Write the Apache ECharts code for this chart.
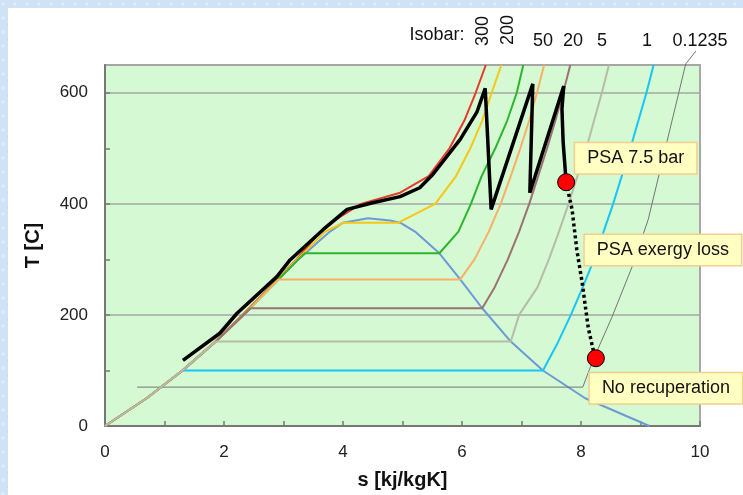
<!DOCTYPE html>
<html>
<head>
<meta charset="utf-8">
<script src="https://cdn.jsdelivr.net/npm/echarts@6/dist/echarts.min.js"></script>
<style>
  html, body { margin: 0; padding: 0; }
  body {
    width: 743px; height: 495px; position: relative; overflow: hidden;
    background: #d0e2f6;
    background-image:
      radial-gradient(circle at 3px 4px, #e4eefa 1px, transparent 2px),
      radial-gradient(circle at 9px 11px, #bfd5f0 1px, transparent 2px);
    background-size: 12px 14px;
  }
  #panel { position: absolute; left: 8px; top: 8px; right: 0; bottom: 0; background: #ffffff; }
  #chart { position: absolute; left: 0; top: 0; width: 743px; height: 495px; }
</style>
</head>
<body>
<div id="panel"></div>
<div id="chart"></div>
<script>
// T-s diagram of water, [s (kJ/kgK), T (C)]
const satDome = [[0, 0], [0.70, 50], [1.31, 100], [1.84, 150], [2.33, 200], [2.79, 250], [3.25, 300],
  [3.78, 350], [4.0, 366], [4.42, 374], [4.79, 370], [4.96, 366], [5.21, 350], [5.62, 311],
  [5.97, 264], [6.34, 212], [6.82, 152], [7.36, 100], [8.07, 50], [9.15, 0]];

const iso300 = [[0, 0], [0.70, 50], [1.30, 100], [1.83, 150], [2.31, 200], [2.77, 250], [3.22, 300],
  [3.62, 350], [3.93, 375], [4.30, 400], [4.96, 420], [5.44, 450], [5.79, 500], [6.04, 550],
  [6.23, 600], [6.40, 650]];
const iso200 = [[0, 0], [0.70, 50], [1.30, 100], [1.83, 150], [2.32, 200], [2.78, 250], [3.23, 300],
  [3.70, 350], [4.01, 366], [4.93, 366], [5.55, 400], [5.90, 450], [6.14, 500], [6.34, 550],
  [6.50, 600], [6.66, 650]];
const iso100 = [[0, 0], [0.70, 50], [1.30, 100], [1.84, 150], [2.32, 200], [2.79, 250], [3.25, 300],
  [3.36, 311], [5.62, 311], [5.94, 350], [6.15, 400], [6.33, 450], [6.56, 500], [6.76, 550],
  [6.92, 600], [7.03, 650]];
const iso50 = [[0, 0], [0.70, 50], [1.30, 100], [1.84, 150], [2.33, 200], [2.79, 250], [2.92, 264],
  [5.97, 264], [6.21, 300], [6.45, 350], [6.65, 400], [6.82, 450], [6.98, 500], [7.13, 550],
  [7.26, 600], [7.38, 650]];
const iso20 = [[0, 0], [0.70, 50], [1.30, 100], [1.84, 150], [2.33, 200], [2.45, 212], [6.34, 212],
  [6.55, 250], [6.77, 300], [6.96, 350], [7.13, 400], [7.28, 450], [7.43, 500], [7.57, 550],
  [7.70, 600], [7.82, 650]];
const iso5 = [[0, 0], [0.70, 50], [1.30, 100], [1.86, 152], [6.82, 152], [6.96, 200], [7.27, 250],
  [7.46, 300], [7.63, 350], [7.79, 400], [8.09, 500], [8.35, 600], [8.47, 650]];
const iso1 = [[1.30, 100], [7.36, 100], [7.61, 150], [7.83, 200], [8.03, 250], [8.22, 300],
  [8.54, 400], [8.83, 500], [9.10, 600], [9.22, 650]];
const iso01235 = [[0.54, 70], [8.03, 70], [8.20, 118], [8.52, 196], [8.86, 287], [9.13, 372],
  [9.76, 652], [9.93, 675]];

const processPath = [[1.31, 118], [1.93, 167], [2.22, 203], [2.89, 269], [3.11, 299], [3.66, 353],
  [4.07, 390], [4.50, 402], [4.96, 413], [5.29, 429], [5.51, 453], [5.97, 516], [6.25, 565],
  [6.39, 608], [6.49, 390], [7.19, 616], [7.14, 420], [7.71, 612], [7.68, 571], [7.70, 511],
  [7.75, 439]];
const lossPath = [[7.75, 439], [7.85, 390], [7.93, 317], [8.02, 258], [8.12, 178], [8.20, 139], [8.25, 122]];

const noteTexts = ['PSA 7.5 bar', 'PSA exergy loss', 'No recuperation'];
const isobarLabels = ['300', '200', '50', '20', '5', '1', '0.1235'];

const FONT = "'Liberation Sans', Arial, sans-serif";

const chart = echarts.init(document.getElementById('chart'), null, { renderer: 'canvas' });

const boxStyle = {
  show: true,
  color: '#111',
  fontFamily: FONT,
  fontSize: 18,
  backgroundColor: '#ffffc2',
  borderColor: '#f3cf8c',
  borderWidth: 1.5,
  padding: [6, 12],
  opacity: 1
};

function isoLine(name, data, color, width) {
  return {
    name: name,
    type: 'line',
    data: data,
    showSymbol: false,
    symbol: 'none',
    lineStyle: { color: color, width: width || 2 },
    silent: true,
    z: 3
  };
}

// the text above the plot
const topTexts = [
  { text: 'Isobar:', x: 437, y: 35, rot: 0 },
  { text: isobarLabels[0], x: 483, y: 31, rot: Math.PI / 2 },
  { text: isobarLabels[1], x: 508, y: 30, rot: Math.PI / 2 },
  { text: isobarLabels[2], x: 543, y: 41, rot: 0 },
  { text: isobarLabels[3], x: 573, y: 41, rot: 0 },
  { text: isobarLabels[4], x: 602, y: 41, rot: 0 },
  { text: isobarLabels[5], x: 647, y: 41, rot: 0 },
  { text: isobarLabels[6], x: 700, y: 41, rot: 0 }
];

const option = {
  animation: false,
  textStyle: { fontFamily: FONT },
  grid: {
    left: 105, right: 43, top: 65, bottom: 69,
    show: true,
    backgroundColor: '#d5f9d3',
    borderColor: '#a8a8a8',
    borderWidth: 2
  },
  xAxis: {
    type: 'value',
    min: 0, max: 10, interval: 1,
    name: 's [kj/kgK]',
    nameLocation: 'middle',
    nameGap: 44,
    nameTextStyle: { fontFamily: FONT, fontSize: 20, fontWeight: 'bold', color: '#111' },
    axisLine: { lineStyle: { color: '#777', width: 2 } },
    axisTick: { inside: true, length: 5, lineStyle: { color: '#777', width: 1.5 } },
    axisLabel: {
      margin: 18, fontSize: 17, color: '#222', fontFamily: FONT,
      formatter: v => (v % 2 === 0 ? String(v) : '')
    },
    splitLine: { show: false }
  },
  yAxis: [{
    type: 'value',
    min: 0, max: 650, interval: 100,
    name: 'T [C]',
    nameLocation: 'middle',
    nameGap: 62,
    nameTextStyle: { fontFamily: FONT, fontSize: 20, fontWeight: 'bold', color: '#111' },
    axisLine: { show: true, lineStyle: { color: '#777', width: 2 } },
    axisTick: { show: true, inside: true, length: 5, lineStyle: { color: '#777', width: 1.5 } },
    axisLabel: {
      margin: 17, fontSize: 17, color: '#222', fontFamily: FONT, showMaxLabel: false,
      formatter: v => (v % 200 === 0 ? String(v) : '')
    },
    splitLine: { show: false }
  }, {
    type: 'value',
    min: 0, max: 650, interval: 200,
    axisLine: { show: false }, axisTick: { show: false }, axisLabel: { show: false },
    splitLine: { show: true, lineStyle: { color: '#a6a6a6', width: 1.5 } }
  }],
  graphic: topTexts.map(t => ({
    type: 'text',
    x: t.x, y: t.y,
    rotation: t.rot,
    style: {
      text: t.text,
      fill: '#111',
      font: '18px ' + FONT,
      textAlign: 'center',
      textVerticalAlign: 'middle'
    }
  })),
  series: [
    isoLine('saturation', satDome, '#6b9bd6', 2),
    isoLine('1 bar', iso1, '#16c6f4', 2),
    Object.assign(isoLine('0.1235 bar', iso01235, '#747474', 1), { clip: false }),
    isoLine('300 bar', iso300, '#e8392b', 2),
    isoLine('200 bar', iso200, '#f6c714', 2),
    isoLine('100 bar', iso100, '#2cb52c', 2),
    isoLine('50 bar', iso50, '#fab062', 2),
    isoLine('20 bar', iso20, '#9c7171', 2),
    isoLine('5 bar', iso5, '#b7bca4', 2),
    Object.assign(isoLine('process', processPath, '#000', 3.5), { z: 4 }),
    Object.assign(isoLine('exergy loss', lossPath, '#000', 3.5), { z: 4 }),
    {
      type: 'scatter',
      z: 5,
      silent: true,
      data: [
        {
          value: processPath[processPath.length - 1], symbolSize: 17,
          label: Object.assign({}, boxStyle, { formatter: noteTexts[0], position: [18, -30] })
        },
        {
          value: lossPath[2], symbolSize: 0,
          label: Object.assign({}, boxStyle, { formatter: noteTexts[1], position: [8, -15] })
        },
        {
          value: lossPath[lossPath.length - 1], symbolSize: 17,
          label: Object.assign({}, boxStyle, { formatter: noteTexts[2], position: [3, 24] })
        }
      ],
      itemStyle: { color: '#ff0000', borderColor: '#000', borderWidth: 1, opacity: 1 }
    }
  ]
};

// dotted style for the exergy loss segment
option.series[10].lineStyle.type = [3, 3];

chart.setOption(option);
</script>
</body>
</html>
